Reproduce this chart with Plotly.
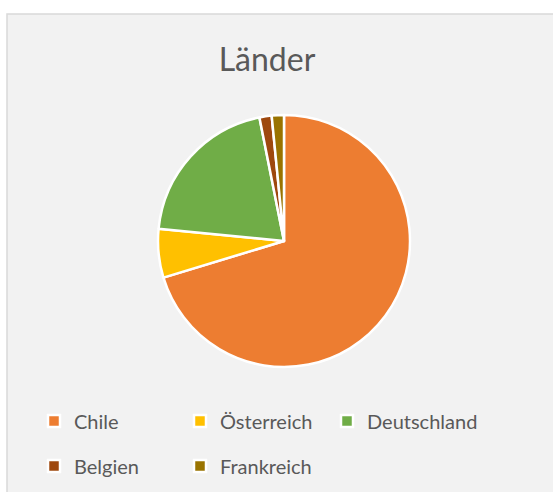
import plotly.graph_objects as go

labels = ["Chile", "Österreich", "Deutschland", "Belgien", "Frankreich"]
values = [45, 4, 13, 1, 1]
colors = ["#ED7D31", "#FFC000", "#70AD47", "#9E480E", "#997300"]
title_text = "Länder"

W, H = 553, 492
FONT = "Lato, Carlito, 'Open Sans', sans-serif"
TXT = "#595959"

def px_x(p):
    return p / W

def px_y(p):
    return 1 - p / H

fig = go.Figure()

fig.add_trace(go.Pie(
    labels=labels, values=values, sort=False, direction="clockwise", rotation=0,
    marker=dict(colors=colors, line=dict(color="white", width=2.5)),
    textinfo="none", showlegend=False,
    domain=dict(x=[px_x(158), px_x(410)], y=[px_y(367), px_y(115)]),
))

# legend layout: 3 columns per row; the third column gets its own legend box
# so that its (long) text is not clipped by the legend's entry width
legend_ids = ["legend", "legend", "legend3", "legend2", "legend2"]
for lab, col, lg in zip(labels, colors, legend_ids):
    fig.add_trace(go.Scatter(
        x=[None], y=[None], mode="markers", name=lab,
        marker=dict(symbol="square", size=12, color=col, line=dict(color="white", width=2.5)),
        legend=lg, hoverinfo="skip",
    ))

legend_common = dict(
    orientation="h", xanchor="left", yanchor="middle",
    entrywidth=101, entrywidthmode="pixels",
    font=dict(family=FONT, size=20, color=TXT),
    bgcolor="rgba(0,0,0,0)", itemclick=False, itemdoubleclick=False,
)

fig.update_layout(
    width=W, height=H,
    margin=dict(l=0, r=0, t=0, b=0),
    paper_bgcolor="white", plot_bgcolor="rgba(0,0,0,0)",
    xaxis=dict(visible=False), yaxis=dict(visible=False),
    title=dict(text=title_text, x=px_x(267), xanchor="center", xref="paper",
               y=px_y(60), yanchor="middle", yref="paper",
               font=dict(family=FONT, size=32, color=TXT)),
    legend=dict(x=px_x(34), y=px_y(421), **legend_common),
    legend2=dict(x=px_x(34), y=px_y(466), **legend_common),
    legend3=dict(x=px_x(327), y=px_y(421), **{**legend_common, "entrywidth": 130}),
    shapes=[dict(type="rect", xref="paper", yref="paper",
                 x0=px_x(7), x1=px_x(565), y0=px_y(14), y1=px_y(505),
                 fillcolor="#F2F2F2", line=dict(color="#D9D9D9", width=1.5), layer="below")],
)

fig.write_html("out.html", config={"displayModeBar": False},
               post_script="document.body.style.margin='0';")
